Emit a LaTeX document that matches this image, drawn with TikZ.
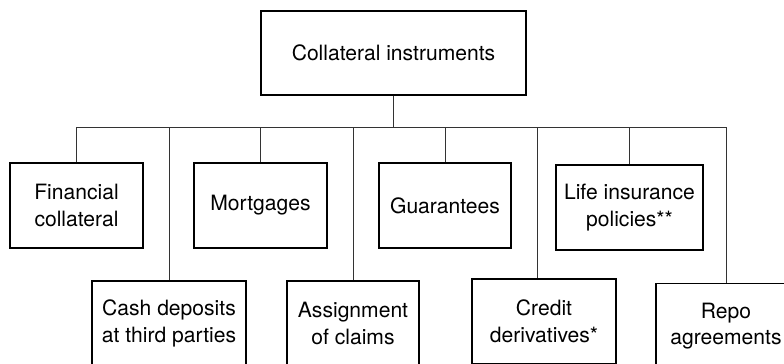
\documentclass[tikz,border=0pt]{standalone}
\usepackage{fontspec}
\setmainfont{TeX Gyre Heros}

\begin{document}
\begin{tikzpicture}[x=0.025cm,y=-0.025cm,
    box/.style={draw,line width=0.9pt,align=center,inner sep=0pt,
      minimum height=2.125cm,font=\fontsize{15}{19}\selectfont},
    link/.style={black!80,line width=0.7pt}]
  \useasboundingbox (0,0) rectangle (784,363);
  \clip (0,0) rectangle (784,363);

  \node[box,minimum width=6.625cm,minimum height=2.1cm] (root) at (393.5,53) {Collateral instruments};

  % first row
  \node[box,minimum width=3.325cm] (fin) at (76.5,205.5) {Financial\\collateral};
  \node[box,minimum width=3.325cm] (mort) at (260.5,205.5) {Mortgages};
  \node[box,minimum width=3.3cm] (guar) at (445,205.5) {Guarantees};
  \node[box,minimum width=3.675cm] (life) at (629.5,207.5) {Life insurance\\policies**};

  % second row
  \node[box,minimum width=3.85cm] (cash) at (169,323.5) {Cash deposits\\at third parties};
  \node[box,minimum width=3.3cm] (assign) at (353,323.5) {Assignment\\of claims};
  \node[box,minimum width=3.6cm] (credit) at (544,321.5) {Credit\\derivatives*};
  \node[box,minimum width=3.5cm] (repo) at (726,326) {Repo\\agreements};

  \coordinate (bus) at (0,127);
  \coordinate (creditdrop) at (537,0);

  \draw[link] (root.south) -- (root.south |- bus);
  \draw[link] (bus -| fin.north) -- (bus -| repo.north);
  \foreach \n in {fin,cash,mort,assign,guar,life,repo}
    \draw[link] (bus -| \n.north) -- (\n.north);
  \draw[link] (bus -| creditdrop) -- (credit.north -| creditdrop);
\end{tikzpicture}
\end{document}
